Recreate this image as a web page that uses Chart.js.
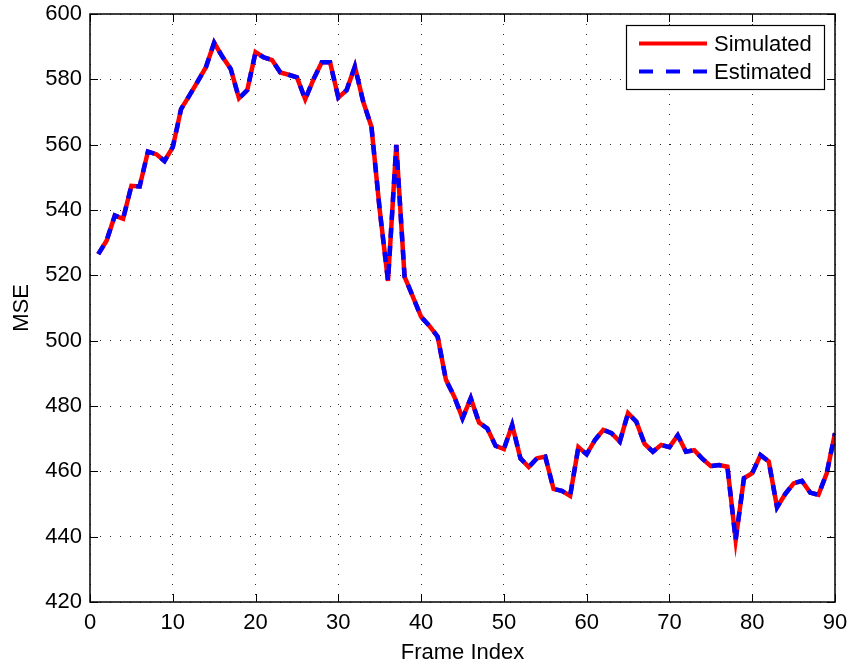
<!DOCTYPE html>
<html>
<head>
<meta charset="utf-8">
<script src="https://cdn.jsdelivr.net/npm/chart.js@4.4.0/dist/chart.umd.min.js"></script>
<style>
  html, body { margin: 0; padding: 0; background: #fff; }
  #wrap { width: 849px; height: 667px; }
</style>
</head>
<body>
<div id="wrap"><canvas id="chartContainer" width="849" height="667"></canvas></div>
<script>
"use strict";

// 1: data
let frameIndex = [];
for (let i = 1; i <= 90; i++) frameIndex.push(i);

let simulatedMse = [
  526.5, 530.6, 538.3, 537.3, 547.4, 547.2, 557.9, 557.1, 555.0, 559.2,
  570.9, 575.0, 579.3, 583.7, 591.2, 586.9, 583.2, 574.2, 576.7, 588.3,
  586.7, 585.9, 582.1, 581.4, 580.6, 573.9, 580.0, 585.2, 585.2, 574.4,
  576.7, 583.9, 573.2, 565.5, 540.0, 518.3, 559.9, 519.6, 513.5, 507.3,
  504.5, 501.2, 488.0, 482.9, 476.2, 482.4, 474.9, 473.1, 467.8, 466.8,
  474.2, 464.0, 461.3, 464.0, 464.5, 454.6, 454.0, 452.5, 467.4, 465.2,
  469.6, 472.7, 471.7, 469.1, 477.8, 475.2, 468.4, 466.0, 468.1, 467.4,
  471.0, 466.0, 466.5, 463.8, 461.6, 461.9, 461.4, 439.0, 457.9, 459.4,
  465.0, 463.0, 449.0, 453.1, 456.3, 457.1, 453.5, 452.8, 459.4, 471.7
];
let estimatedMse = simulatedMse.slice();

let xTicks = [0, 10, 20, 30, 40, 50, 60, 70, 80, 90];
let yTicks = [420, 440, 460, 480, 500, 520, 540, 560, 580, 600];

let seriesNames = ['Simulated', 'Estimated'];

// 2: prepare points
function toPoints(xs, ys) {
  let pts = [];
  for (let i = 0; i < xs.length; i++) pts.push({ x: xs[i], y: ys[i] });
  return pts;
}

const FONT = 'Liberation Sans, Arial, Helvetica, sans-serif';
const FSIZE = 22;

// box, inward ticks and legend like the matlab figure
const matlabFrame = {
  id: 'matlabFrame',
  afterDatasetsDraw(chart) {
    const ctx = chart.ctx;
    const a = chart.chartArea;
    const xs = chart.scales.x, ys = chart.scales.y;
    ctx.save();
    ctx.strokeStyle = '#000';
    ctx.lineWidth = 1.5;
    ctx.setLineDash([]);
    ctx.strokeRect(a.left, a.top, a.right - a.left, a.bottom - a.top);
    ctx.lineWidth = 1;
    const tl = 8;
    ctx.beginPath();
    for (const v of xTicks) {
      const px = Math.round(xs.getPixelForValue(v)) + 0.5;
      ctx.moveTo(px, a.bottom); ctx.lineTo(px, a.bottom - tl);
      ctx.moveTo(px, a.top); ctx.lineTo(px, a.top + tl);
    }
    for (const v of yTicks) {
      const py = Math.round(ys.getPixelForValue(v)) + 0.5;
      ctx.moveTo(a.left, py); ctx.lineTo(a.left + tl, py);
      ctx.moveTo(a.right, py); ctx.lineTo(a.right - tl, py);
    }
    ctx.stroke();

    // legend
    const bx = 626, by = 25, bw = 198, bh = 64;
    ctx.fillStyle = '#fff';
    ctx.fillRect(bx, by, bw, bh);
    ctx.lineWidth = 1.2;
    ctx.strokeRect(bx + 0.5, by + 0.5, bw, bh);
    const ds = chart.data.datasets;
    const rows = [43.5, 71.5];
    for (let k = 0; k < 2; k++) {
      ctx.beginPath();
      ctx.strokeStyle = ds[k].borderColor;
      ctx.lineWidth = 4;
      ctx.setLineDash(k === 1 ? [14, 13] : []);
      ctx.moveTo(639, rows[k]); ctx.lineTo(707, rows[k]);
      ctx.stroke();
      ctx.setLineDash([]);
      ctx.fillStyle = '#000';
      ctx.font = FSIZE + 'px ' + FONT;
      ctx.textBaseline = 'middle';
      ctx.textAlign = 'left';
      ctx.fillText(ds[k].label, 714, rows[k] + 1);
    }
    ctx.restore();
  }
};

// 3: create the chart
function appendChart() {
  let chartContainer = document.getElementById('chartContainer');
  let chart = new Chart(chartContainer, {
    type: 'line',
    data: {
      datasets: [{
        label: seriesNames[0],
        data: toPoints(frameIndex, simulatedMse),
        borderColor: '#ff0000',
        borderWidth: 4.5,
        pointRadius: 0,
        tension: 0,
        fill: false,
        order: 1
      },
      {
        label: seriesNames[1],
        data: toPoints(frameIndex, estimatedMse),
        borderColor: '#0000ff',
        borderWidth: 4.5,
        borderDash: [10, 8],
        pointRadius: 0,
        tension: 0,
        fill: false,
        order: 0
      }]
    },
    options: {
      responsive: false,
      animation: false,
      layout: { padding: { left: 0, right: 14, top: 14, bottom: 0 } },
      plugins: {
        legend: { display: false },
        tooltip: { enabled: false }
      },
      scales: {
        x: {
          type: 'linear',
          min: 0,
          max: 90,
          afterBuildTicks: (s) => { s.ticks = xTicks.map(v => ({ value: v })); },
          afterFit: (s) => { s.height = 65; s.paddingLeft = 0; s.paddingRight = 0; },
          border: { display: false, dash: [1, 9] },
          grid: {
            color: 'rgba(0,0,0,0.85)',
            lineWidth: 1,
            drawTicks: false
          },
          ticks: { color: '#000', padding: 8, font: { family: FONT, size: FSIZE }, maxRotation: 0 },
          title: { display: true, text: 'Frame Index', color: '#000', font: { family: FONT, size: FSIZE }, padding: { top: 0, bottom: 1 } }
        },
        y: {
          min: 420,
          max: 600,
          afterBuildTicks: (s) => { s.ticks = yTicks.map(v => ({ value: v })); },
          afterFit: (s) => { s.width = 90; s.paddingTop = 0; s.paddingBottom = 0; },
          border: { display: false, dash: [1, 9] },
          grid: {
            color: 'rgba(0,0,0,0.85)',
            lineWidth: 1,
            drawTicks: false
          },
          ticks: { color: '#000', padding: 8, font: { family: FONT, size: FSIZE } },
          title: { display: true, text: 'MSE', color: '#000', font: { family: FONT, size: FSIZE }, padding: { top: 9, bottom: 0 } }
        }
      }
    },
    plugins: [matlabFrame]
  });
  return chart;
}

appendChart();
</script>
</body>
</html>
